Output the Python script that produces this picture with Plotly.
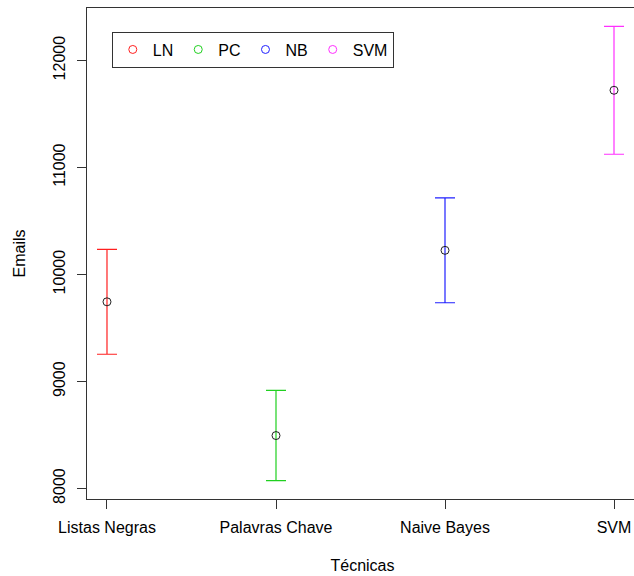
import plotly.graph_objects as go

categorias = ["Listas Negras", "Palavras Chave", "Naive Bayes", "SVM"]
legendas = ["LN", "PC", "NB", "SVM"]
medias = [9745, 8495, 10226, 11722]
erros = [490, 422, 490, 598]
cores = ["#FF2020", "#20D020", "#2020FF", "#FF30FF"]
y_ticks = [8000, 9000, 10000, 11000, 12000]

FONT = "Liberation Sans, Arial, sans-serif"

fig = go.Figure()
for cat, m, e, c in zip(categorias, medias, erros, cores):
    fig.add_trace(go.Scatter(
        x=[cat], y=[m], mode="markers", showlegend=False,
        marker=dict(symbol="circle-open", size=8, color="#222222", line=dict(width=1)),
        error_y=dict(type="data", array=[e], visible=True, color=c, thickness=1.2, width=10),
    ))
for lab, c in zip(legendas, cores):
    fig.add_trace(go.Scatter(
        x=[None], y=[None], mode="markers", name=lab,
        marker=dict(symbol="circle-open", size=8, color=c, line=dict(width=1)),
    ))

fig.update_layout(
    width=638, height=576,
    margin=dict(l=87, r=0, t=8, b=77),
    plot_bgcolor="white", paper_bgcolor="white",
    font=dict(family=FONT, size=16, color="black"),
    showlegend=True,
    legend=dict(
        orientation="h", x=0.045, y=0.952, xanchor="left", yanchor="top",
        bordercolor="#333333", borderwidth=1, bgcolor="white",
        font=dict(size=16), itemwidth=30,
    ),
    xaxis=dict(
        type="category", categoryorder="array", categoryarray=categorias,
        range=[-0.1183, 3.142], showgrid=False, zeroline=False,
        showline=True, linecolor="#333333", linewidth=1, mirror=True,
        ticks="outside", ticklen=9, tickcolor="#333333", ticklabelstandoff=5,
        title=dict(text="Técnicas", standoff=24, font=dict(size=16)),
    ),
    yaxis=dict(
        range=[7902, 12491], showgrid=False, zeroline=False,
        showline=True, linecolor="#333333", linewidth=1, mirror=False,
        ticks="outside", ticklen=9, tickcolor="#333333", ticklabelstandoff=6,
        tickvals=y_ticks, ticktext=[str(v) for v in y_ticks], tickangle=-90,
        title=dict(text="Emails", standoff=20, font=dict(size=16)),
    ),
)

fig.write_html("out.html", config={"displayModeBar": False},
               post_script="document.body.style.margin='0';document.body.style.overflow='hidden';")
